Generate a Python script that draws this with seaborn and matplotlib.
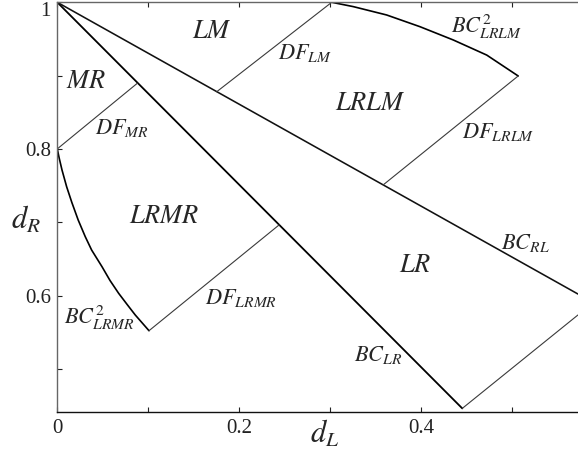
import matplotlib
matplotlib.use("Agg")
import matplotlib.pyplot as plt
import seaborn as sns
import pandas as pd

# Boundary curves of the (d_L, d_R) parameter plane
bc_lr_dl = [0.0, 0.4455]
bc_lr_dr = [1.0, 0.446]

bc_rl_dl = [0.0, 0.5728]
bc_rl_dr = [1.0, 0.602]

bc2_lrlm_dl = [0.3019, 0.3256, 0.3623, 0.3990, 0.4356, 0.4724, 0.5070]
bc2_lrlm_dr = [1.0, 0.9941, 0.9827, 0.9667, 0.9486, 0.9280, 0.8995]

bc2_lrmr_dl = [0.0, 0.0020, 0.0052, 0.0103, 0.0160, 0.0230, 0.0308, 0.0378,
               0.0492, 0.0580, 0.0675, 0.0770, 0.0858, 0.1009]
bc2_lrmr_dr = [0.8, 0.7880, 0.7712, 0.7484, 0.7270, 0.7030, 0.6802, 0.6620,
               0.6393, 0.6205, 0.6030, 0.5875, 0.5734, 0.5520]

# Degenerate-flip lines
df_mr_dl = [0.0, 0.0880]
df_mr_dr = [0.8, 0.8895]

df_lm_dl = [0.1754, 0.3019]
df_lm_dr = [0.8780, 1.0]

df_lrlm_dl = [0.3586, 0.5070]
df_lrlm_dr = [0.7510, 0.8995]

df_lrmr_dl = [0.1009, 0.2442]
df_lrmr_dr = [0.5520, 0.6965]

df_lr_dl = [0.4455, 0.5728]
df_lr_dr = [0.446, 0.5735]

# Region and curve labels
labels = ["$LM$", "$MR$", "$LRLM$", "$LRMR$", "$LR$"]
label_dl = [0.170, 0.0316, 0.344, 0.1174, 0.3935]
label_dr = [0.960, 0.891, 0.861, 0.707, 0.640]

curve_labels = ["$DF_{MR}$", "$DF_{LM}$", "$BC^2_{LRLM}$", "$DF_{LRLM}$",
                "$DF_{LRMR}$", "$BC^2_{LRMR}$", "$BC_{RL}$", "$BC_{LR}$"]
curve_label_dl = [0.0713, 0.2727, 0.4716, 0.4848, 0.2021, 0.0459, 0.5145, 0.3528]
curve_label_dr = [0.828, 0.931, 0.966, 0.823, 0.5966, 0.569, 0.672, 0.519]

x_ticks = [0.0, 0.1, 0.2, 0.3, 0.4, 0.5]
x_ticklabels = ["0", "", "0.2", "", "0.4", ""]
y_ticks = [0.5, 0.6, 0.7, 0.8, 0.9, 1.0]
y_ticklabels = ["", "0.6", "", "0.8", "", "1"]

sns.set_style("ticks")
plt.rcParams["font.family"] = ["Liberation Serif", "DejaVu Serif"]
plt.rcParams["mathtext.fontset"] = "stix"

fig = plt.figure(figsize=(5.78, 4.5), dpi=100)
ax = fig.add_axes([0.0991, 0.0838, 0.9009, 0.9111])

curves = [
    ("BC_LR", bc_lr_dl, bc_lr_dr, "#000000", 1.3),
    ("BC_RL", bc_rl_dl, bc_rl_dr, "#111111", 1.15),
    ("BC2_LRLM", bc2_lrlm_dl, bc2_lrlm_dr, "#000000", 1.2),
    ("BC2_LRMR", bc2_lrmr_dl, bc2_lrmr_dr, "#000000", 1.2),
    ("DF_MR", df_mr_dl, df_mr_dr, "#3a3a3a", 0.8),
    ("DF_LM", df_lm_dl, df_lm_dr, "#3a3a3a", 0.8),
    ("DF_LRLM", df_lrlm_dl, df_lrlm_dr, "#3a3a3a", 0.8),
    ("DF_LRMR", df_lrmr_dl, df_lrmr_dr, "#3a3a3a", 0.8),
    ("DF_LR", df_lr_dl, df_lr_dr, "#3a3a3a", 0.8),
]
for name, xs, ys, color, lw in curves:
    df = pd.DataFrame({"d_L": xs, "d_R": ys})
    sns.lineplot(data=df, x="d_L", y="d_R", sort=False, estimator=None,
                 color=color, linewidth=lw, ax=ax, clip_on=True)

for t, x, y in zip(labels, label_dl, label_dr):
    ax.text(x, y, t, fontsize=19, ha="center", va="center")
for t, x, y in zip(curve_labels, curve_label_dl, curve_label_dr):
    ax.text(x, y, t, fontsize=16, ha="center", va="center")

ax.set_xlim(0, 0.5728)
ax.set_ylim(0.4407, 1.0)
ax.set_xticks(x_ticks)
ax.set_xticklabels(x_ticklabels)
ax.set_yticks(y_ticks)
ax.set_yticklabels(y_ticklabels)
ax.tick_params(direction="in", length=3.5, width=0.8, labelsize=15, pad=4.5,
               top=True, right=False, colors="#222222")

ax.set_xlabel("$d_L$", fontsize=22)
ax.set_ylabel("$d_R$", fontsize=22, rotation=0)
ax.xaxis.set_label_coords(0.514, -0.053)
ax.yaxis.set_label_coords(-0.060, 0.469)
ax.xaxis.label.set_va("center")
ax.yaxis.label.set_va("center")
ax.yaxis.label.set_ha("center")

for side in ["left", "top"]:
    ax.spines[side].set_color("#666666")
ax.spines["bottom"].set_color("#111111")
ax.spines["right"].set_visible(False)
for s in ax.spines.values():
    s.set_linewidth(1.0)

for lab in ax.get_yticklabels():
    if lab.get_text() == "1":
        lab.set_va("top")

fig.savefig("out.png", dpi=100)
